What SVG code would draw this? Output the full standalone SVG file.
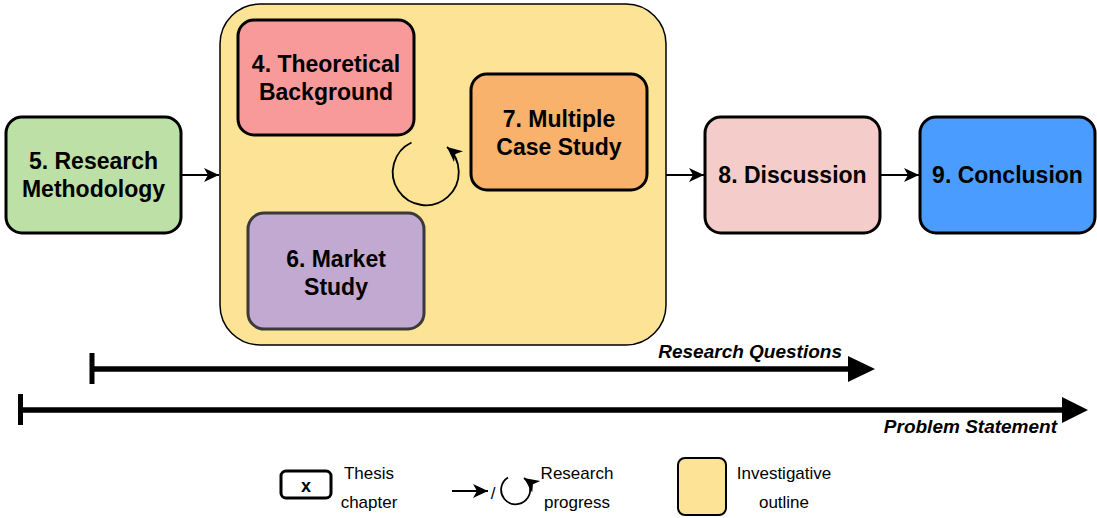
<svg xmlns="http://www.w3.org/2000/svg" width="1097" height="518" viewBox="0 0 1097 518">
<style>
.node{stroke:#000;stroke-width:3}
.lbl{font-family:"Liberation Sans",Arial,sans-serif;font-weight:bold;font-size:23px;fill:#000;text-anchor:middle}
.bar{font-family:"Liberation Sans",Arial,sans-serif;font-weight:bold;font-style:italic;font-size:19px;fill:#000;text-anchor:end}
.leg{font-family:"Liberation Sans",Arial,sans-serif;font-size:17px;fill:#000;text-anchor:middle}
.conn{stroke:#000;stroke-width:1.8;fill:none}
</style>
<defs>
<marker id="ah" markerUnits="userSpaceOnUse" markerWidth="18" markerHeight="18" viewBox="0 0 18 18" refX="15" refY="9" orient="auto">
<path d="M0,2 L15,9 L0,16 L4,9 Z" fill="#000"/>
</marker>
</defs>
<rect width="1097" height="518" fill="#fff"/>
<g id="outline">
<rect x="220" y="4" width="446" height="341" rx="40" fill="#FCE395" stroke="#000" stroke-width="1.5"/>
</g>
<g id="n5">
<rect class="node" x="6" y="117" width="175" height="116" rx="16" fill="#BDE0A6"/>
<text class="lbl" x="93.5" y="169">5. Research</text>
<text class="lbl" x="93.5" y="197">Methodology</text>
</g>
<g id="n4">
<rect class="node" x="238" y="20" width="176" height="115" rx="16" fill="#F89A9A"/>
<text class="lbl" x="326" y="72">4. Theoretical</text>
<text class="lbl" x="326" y="100">Background</text>
</g>
<g id="n7">
<rect class="node" x="471" y="74" width="176" height="116" rx="16" fill="#F9B26B"/>
<text class="lbl" x="559" y="127">7. Multiple</text>
<text class="lbl" x="559" y="155">Case Study</text>
</g>
<g id="n6">
<rect class="node" x="248" y="213" width="176" height="116" rx="16" fill="#C2A9D1" style="stroke:#3a3a3a"/>
<text class="lbl" x="336" y="267">6. Market</text>
<text class="lbl" x="336" y="295">Study</text>
</g>
<g id="n8">
<rect class="node" x="705" y="117" width="175" height="116" rx="16" fill="#F4CDCA"/>
<text class="lbl" x="792.5" y="183">8. Discussion</text>
</g>
<g id="n9">
<rect class="node" x="920" y="117" width="175" height="116" rx="16" fill="#4A9CFF"/>
<text class="lbl" x="1007.5" y="183">9. Conclusion</text>
</g>
<g id="connectors">
<line class="conn" x1="181" y1="175" x2="219" y2="175" marker-end="url(#ah)"/>
<line class="conn" x1="666" y1="175" x2="704" y2="175" marker-end="url(#ah)"/>
<line class="conn" x1="880" y1="175" x2="919" y2="175" marker-end="url(#ah)"/>
<path class="conn" d="M411.5,142.5 A33,33 0 1 0 447,147" marker-end="url(#ah)"/>
</g>
<g id="research-questions">
<line x1="92" y1="353" x2="92" y2="384" stroke="#000" stroke-width="5"/>
<line x1="92" y1="369" x2="850" y2="369" stroke="#000" stroke-width="5.5"/>
<polygon points="848,356 875,369 848,382" fill="#000"/>
<text class="bar" x="842" y="358">Research Questions</text>
</g>
<g id="problem-statement">
<line x1="20.5" y1="394" x2="20.5" y2="425" stroke="#000" stroke-width="5"/>
<line x1="20" y1="410" x2="1064" y2="410" stroke="#000" stroke-width="5.5"/>
<polygon points="1062,397 1088,410 1062,423" fill="#000"/>
<text class="bar" x="1057" y="433">Problem Statement</text>
</g>
<g id="legend">
<rect x="281" y="471" width="50" height="27" rx="5" fill="#fff" stroke="#000" stroke-width="3"/>
<text class="leg" x="306" y="492" style="font-weight:bold;font-size:18px">x</text>
<text class="leg" x="369" y="479">Thesis</text>
<text class="leg" x="369" y="508">chapter</text>
<line class="conn" x1="452" y1="491" x2="488" y2="491" marker-end="url(#ah)"/>
<text class="leg" x="493" y="499">/</text>
<path class="conn" d="M508,477.5 A14.5,14.5 0 1 0 524,478" marker-end="url(#ah)"/>
<text class="leg" x="577" y="479">Research</text>
<text class="leg" x="577" y="508">progress</text>
<rect x="678" y="458" width="48" height="57" rx="7" fill="#FCE395" stroke="#000" stroke-width="2"/>
<text class="leg" x="784" y="479">Investigative</text>
<text class="leg" x="784" y="508">outline</text>
</g>
</svg>
